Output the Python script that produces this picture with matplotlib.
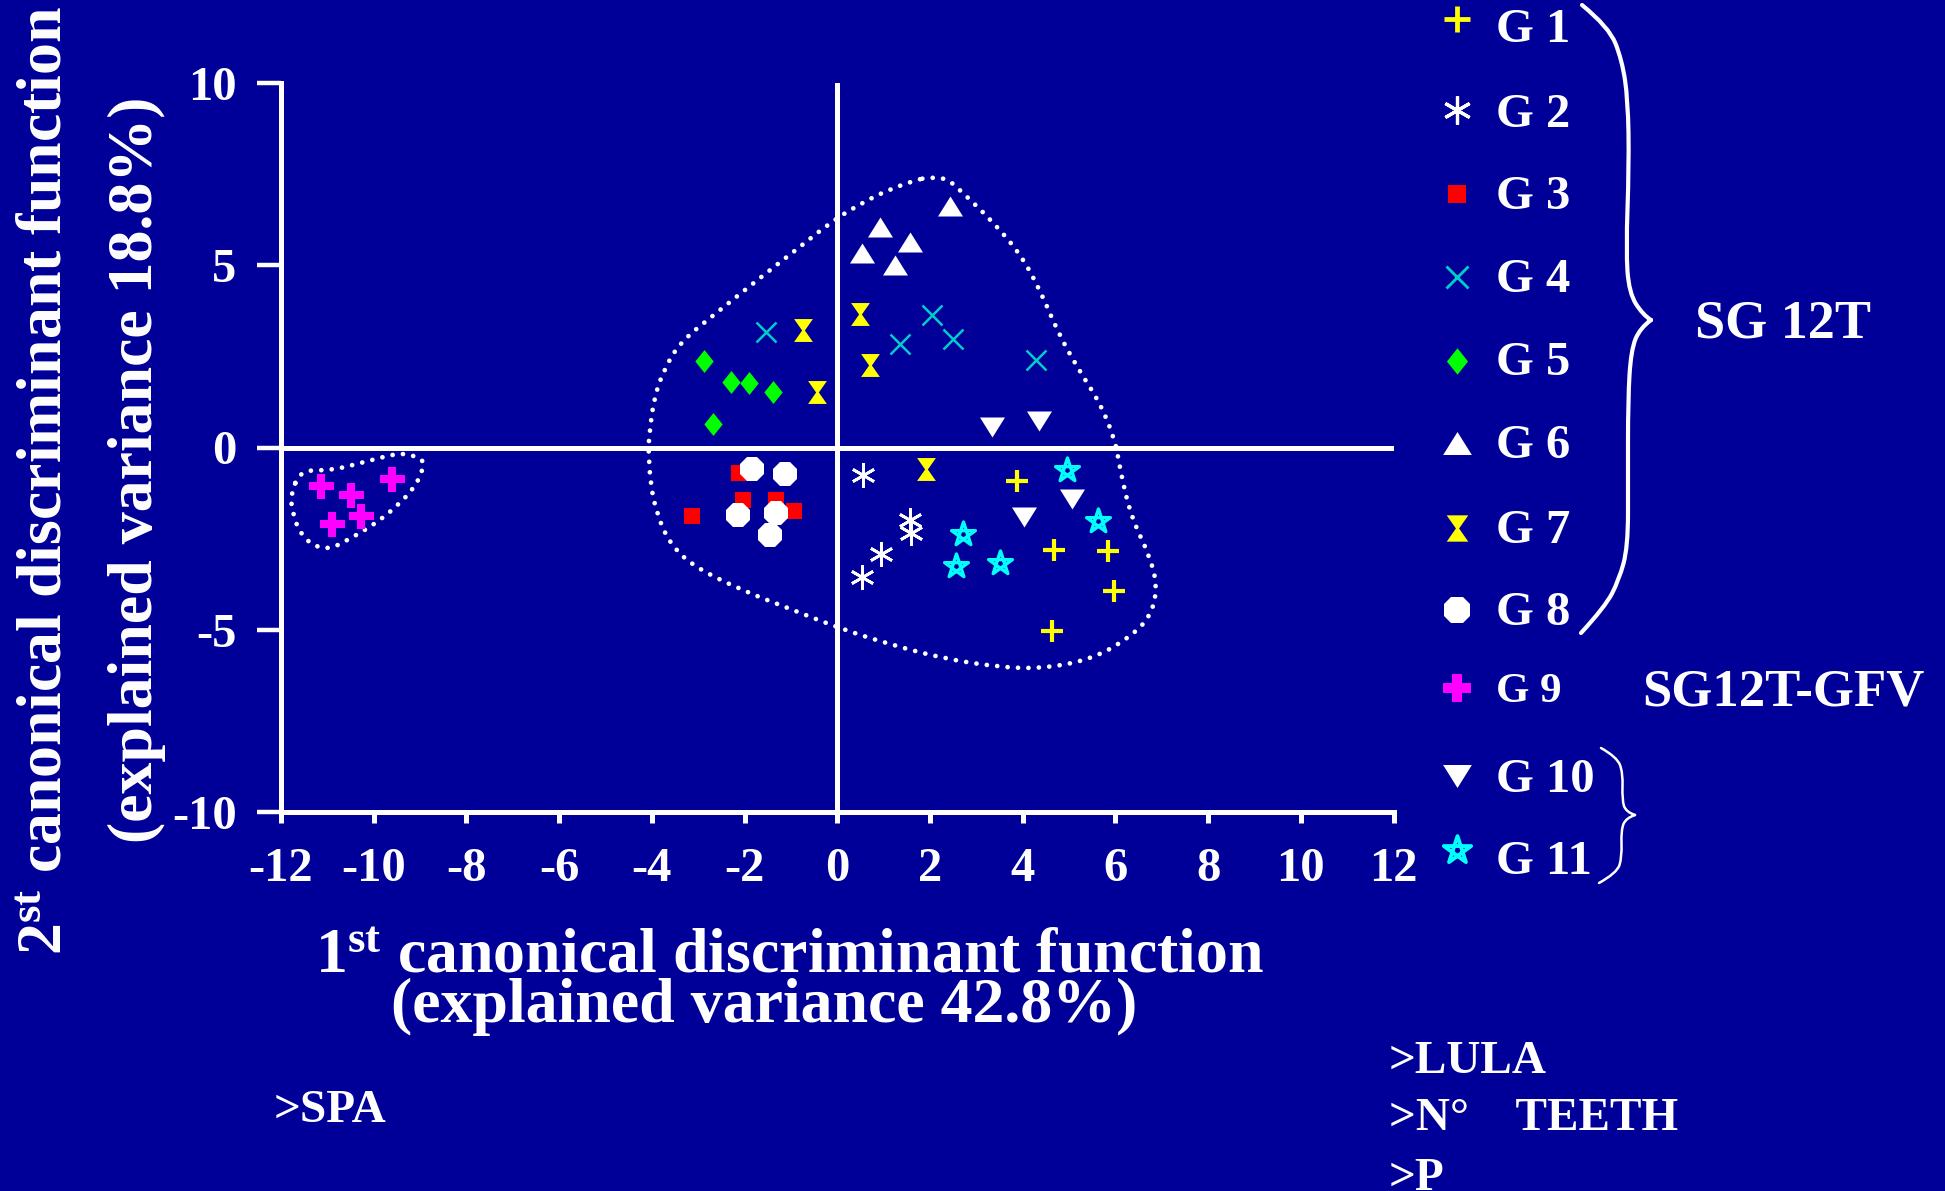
import numpy as np
import matplotlib
matplotlib.use("Agg")
import matplotlib.pyplot as plt
from matplotlib.path import Path
from matplotlib.patches import PathPatch

BG = "#000099"

plt.rcParams.update({
    "font.family": ["Liberation Serif", "DejaVu Serif"],
    "font.weight": "bold",
    "mathtext.fontset": "custom",
    "mathtext.rm": "Liberation Serif:bold",
    "mathtext.it": "Liberation Serif:bold",
    "mathtext.bf": "Liberation Serif:bold",
})

# ---- canonical scores per group (1st function, 2nd function) ----
group_names = ["G 1", "G 2", "G 3", "G 4", "G 5", "G 6", "G 7", "G 8", "G 9", "G 10", "G 11"]

g1_x = [3.87, 4.67, 5.84, 5.96, 4.63]
g1_y = [-0.93, -2.82, -2.85, -3.94, -5.04]
g2_x = [0.55, 1.56, 1.60, 0.94, 0.54]
g2_y = [-0.76, -1.98, -2.34, -2.91, -3.54]
g3_x = [-2.11, -2.04, -1.32, -0.94, -3.13]
g3_y = [-0.70, -1.45, -1.45, -1.75, -1.88]
g4_x = [-1.53, 2.04, 1.35, 2.50, 4.28]
g4_y = [3.16, 3.64, 2.84, 2.99, 2.39]
g5_x = [-2.87, -2.30, -1.90, -1.38, -2.68]
g5_y = [2.38, 1.80, 1.76, 1.53, 0.65]
g6_x = [2.43, 0.92, 1.56, 0.53, 1.24]
g6_y = [6.62, 6.05, 5.64, 5.34, 5.02]
g7_x = [-0.73, 0.49, 0.70, -0.44, 1.91]
g7_y = [3.23, 3.67, 2.26, 1.51, -0.58]
g8_x = [-1.84, -1.12, -2.15, -1.33, -1.46]
g8_y = [-0.58, -0.73, -1.85, -1.79, -2.40]
g9_x = [-11.14, -10.49, -9.60, -10.28, -10.91]
g9_y = [-1.06, -1.30, -0.86, -1.88, -2.10]
g10_x = [3.34, 4.35, 4.02, 5.07]
g10_y = [0.57, 0.72, -1.90, -1.40]
g11_x = [4.95, 5.63, 2.71, 2.56, 3.51]
g11_y = [-0.62, -2.02, -2.36, -3.26, -3.16]

xs_all = [g1_x, g2_x, g3_x, g4_x, g5_x, g6_x, g7_x, g8_x, g9_x, g10_x, g11_x]
ys_all = [g1_y, g2_y, g3_y, g4_y, g5_y, g6_y, g7_y, g8_y, g9_y, g10_y, g11_y]

# outlines of the two clusters (SG 12T and SG12T-GFV)
sg12t_x = [1.94, 2.35, 2.70, 3.36, 3.96, 4.39, 4.75, 5.18, 5.69, 6.01, 6.08, 6.33, 6.73,
           6.91, 6.77, 6.28, 5.47, 4.39, 3.46, 2.30, 1.19, 0.07, -0.99, -2.09, -3.10,
           -3.60, -3.88, -4.03, -4.07, -4.07, -3.96, -3.74, -3.38, -2.67, -1.58, -0.86,
           -0.14, 0.45, 1.08, 1.73]
sg12t_y = [7.40, 7.40, 7.00, 6.19, 5.29, 4.28, 3.19, 2.19, 1.18, 0.13, -0.47, -1.88, -2.94,
           -3.80, -4.63, -5.24, -5.82, -6.07, -6.02, -5.79, -5.42, -4.97, -4.44, -3.90, -3.26,
           -2.66, -1.87, -1.02, -0.10, 0.17, 1.32, 2.14, 2.90, 3.63, 4.74, 5.45,
           6.18, 6.65, 7.06, 7.35]
gfv_x = [-11.59, -10.91, -10.24, -9.58, -9.35, -8.93, -8.93, -9.13, -9.45, -9.79,
         -10.17, -10.57, -10.98, -11.39, -11.66, -11.77, -11.79]
gfv_y = [-0.62, -0.63, -0.41, -0.19, -0.16, -0.31, -0.60, -1.12, -1.54, -1.92,
         -2.25, -2.54, -2.81, -2.64, -2.18, -1.61, -1.32]

x_ticks = [-12, -10, -8, -6, -4, -2, 0, 2, 4, 6, 8, 10, 12]
y_ticks = [-10, -5, 0, 5, 10]

# ---- marker shapes ----
tri_up = [(-1, -0.8), (1, -0.8), (0, 0.8)]
tri_down = [(-1, 0.8), (1, 0.8), (0, -0.8)]
hourglass = [(-0.82, 1), (0.82, 1), (0.12, 0), (0.82, -1), (-0.82, -1), (-0.12, 0)]
diamond = [(0, 1), (0.8, 0), (0, -1), (-0.8, 0)]
_ang = np.deg2rad(90 + 144 * np.arange(5))
pentagram = Path(np.vstack([np.column_stack([np.cos(_ang), np.sin(_ang)]), [[0, 0]]]),
                 [Path.MOVETO] + [Path.LINETO] * 4 + [Path.CLOSEPOLY])

styles = [
    dict(marker="+", color="#FFFF00", ms=16, mew=3.0),
    dict(marker=(6, 2, 0), color="white", ms=17.5, mew=2.0),
    dict(marker="s", color="#FF0000", ms=11.5, mew=0),
    dict(marker="x", color="#00CCCC", ms=14, mew=1.8),
    dict(marker=diamond, color="#00FF00", ms=16.5, mew=0),
    dict(marker=tri_up, color="white", ms=18, mew=0),
    dict(marker=hourglass, color="#FFFF00", ms=16.5, mew=0),
    dict(marker="8", color="white", ms=18, mew=0),
    dict(marker="P", color="#FF00FF", ms=18, mew=0),
    dict(marker=tri_down, color="white", ms=18, mew=0),
    dict(marker=pentagram, color="#00FFFF", ms=18, mew=2.4, mfc="none"),
]


def marker_kw(st, scale=1.0):
    kw = dict(linestyle="none", marker=st["marker"], markersize=st["ms"] * scale,
              markeredgewidth=st["mew"] * scale, markeredgecolor=st["color"],
              markerfacecolor=st.get("mfc", st["color"]))
    return kw


def smooth_closed(xs, ys):
    p = np.column_stack([xs, ys])
    mids = (p + np.roll(p, -1, axis=0)) / 2
    verts = [mids[-1]]
    codes = [Path.MOVETO]
    for i in range(len(p)):
        verts += [p[i], mids[i]]
        codes += [Path.CURVE3, Path.CURVE3]
    return Path(verts, codes)


def smooth_open(pts):
    p = np.asarray(pts, float)
    verts = [p[0]]
    codes = [Path.MOVETO]
    for i in range(1, len(p) - 1):
        end = p[-1] if i == len(p) - 2 else (p[i] + p[i + 1]) / 2
        verts += [p[i], end]
        codes += [Path.CURVE3, Path.CURVE3]
    return verts, codes


W, H = 1945, 1191
fig = plt.figure(figsize=(W / 100, H / 100), dpi=100, facecolor=BG)

# ---- scatter panel ----
ax = fig.add_axes([281 / W, 1 - 812 / H, (1393.5 - 281) / W, (812 - 83) / H])
ax.set_facecolor("none")
ax.set_xlim(-12, 12)
ax.set_ylim(-10, 10)
for side in ("top", "right"):
    ax.spines[side].set_visible(False)
for side in ("left", "bottom"):
    ax.spines[side].set_color("white")
    ax.spines[side].set_linewidth(3.6)
ax.axhline(0, color="white", lw=3.6, zorder=1)
ax.axvline(0, color="white", lw=3.6, zorder=1)

ax.set_xticks(x_ticks)
ax.set_xticklabels([str(v) for v in x_ticks])
ax.set_yticks(y_ticks)
ax.set_yticklabels([str(v) for v in y_ticks])
ax.tick_params(axis="x", direction="out", length=8, width=3.6, color="white",
               labelcolor="white", labelsize=35, pad=17)
ax.tick_params(axis="y", direction="out", length=17, width=3.2, color="white",
               labelcolor="white", labelsize=35, pad=15)
for lab in ax.get_xticklabels() + ax.get_yticklabels():
    lab.set_fontweight("bold")

dot_style = dict(fill=False, edgecolor="white", lw=3.4, linestyle=(0, (0.01, 2.2)),
                 capstyle="round", zorder=2)
ax.add_patch(PathPatch(smooth_closed(sg12t_x, sg12t_y), **dot_style))
ax.add_patch(PathPatch(smooth_closed(gfv_x, gfv_y), **dot_style))

for gx, gy, st in zip(xs_all, ys_all, styles):
    ax.plot(gx, gy, zorder=3, clip_on=False, **marker_kw(st))

# ---- overlay in pixel units for legend, braces and titles ----
ov = fig.add_axes([0, 0, 1, 1])
ov.set_xlim(0, W)
ov.set_ylim(H, 0)
ov.axis("off")
ov.patch.set_alpha(0)

leg_marker_y = [19, 110, 194, 277, 361, 443, 528, 610, 688, 776, 850]
leg_text_y = [42, 127, 209, 292, 375, 458, 543, 625, 702, 792, 874]
for name, my, ty, st in zip(group_names, leg_marker_y, leg_text_y, styles):
    ov.plot([1457], [my], clip_on=False, **marker_kw(st, 1.15))
    ov.text(1496, ty, name, color="white", fontsize=31 if name == "G 9" else 35,
            fontweight="bold", ha="left", va="baseline")

brace_big_top = [(1582, 5), (1609, 27), (1622, 60), (1628, 100), (1629, 167), (1626, 250),
                 (1629, 293), (1643, 315), (1651, 320)]
brace_big_bot = [(1651, 320), (1640, 328), (1631, 350), (1628, 400), (1628, 480),
                 (1628, 547), (1619, 580), (1605, 607), (1581, 633)]
brace_small_top = [(1601, 748), (1617, 757), (1623, 773), (1622, 800), (1626, 812), (1635, 815)]
brace_small_bot = [(1635, 815), (1626, 818), (1621, 830), (1622, 857), (1617, 873), (1599, 883)]

for half_a, half_b, lw in ((brace_big_top, brace_big_bot, 3.0),
                           (brace_small_top, brace_small_bot, 1.8)):
    va_, ca_ = smooth_open(half_a)
    vb_, cb_ = smooth_open(half_b)
    path = Path(va_ + vb_, ca_ + cb_)
    ov.add_patch(PathPatch(path, fill=False, edgecolor="white", lw=lw,
                           capstyle="round", joinstyle="round"))

ov.text(1695, 338, "SG 12T", color="white", fontsize=39, fontweight="bold",
        ha="left", va="baseline")
ov.text(1642, 706, "SG12T-GFV", color="white", fontsize=38, fontweight="bold",
        ha="left", va="baseline")

# axis titles
title_kw = dict(color="white", fontsize=46, fontweight="bold", ha="left", va="baseline",
                rotation_mode="anchor")
ov.text(315, 973, "1$^{\\mathrm{st}}$ canonical discriminant function", **title_kw)
ov.text(391, 1022, "(explained variance 42.8%)", **title_kw)
ov.text(62, 955, "2$^{\\mathrm{st}}$ canonical discriminant function", rotation=90, **title_kw)
ov.text(152, 843, "(explained variance 18.8%)", rotation=90, **title_kw)

# variable notes
note_kw = dict(color="white", fontsize=34, fontweight="bold", ha="left", va="baseline")
ov.text(274, 1122, ">SPA", **note_kw)
ov.text(1389, 1073, ">LULA", **note_kw)
ov.text(1389, 1130, ">N°    TEETH", **note_kw)
ov.text(1389, 1190, ">P", **note_kw)

fig.savefig("out.png", dpi=100, facecolor=BG)
